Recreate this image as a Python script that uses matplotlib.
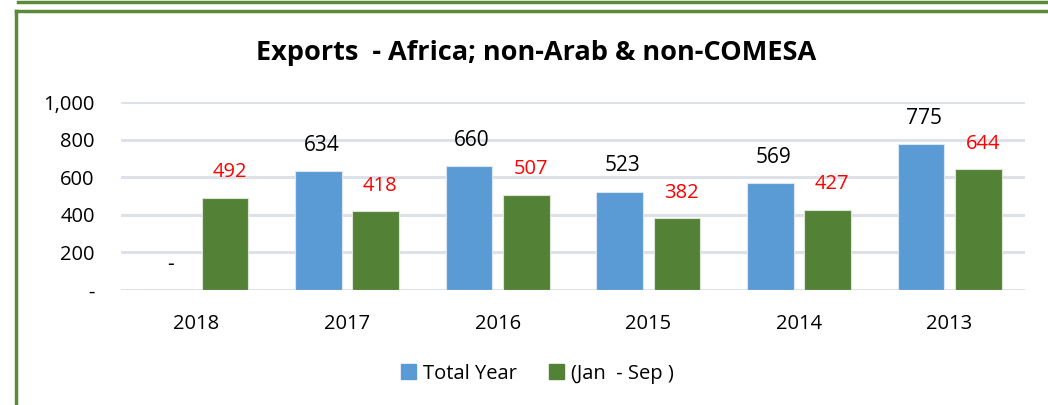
import matplotlib.pyplot as plt
from matplotlib.lines import Line2D
from matplotlib.ticker import FuncFormatter
import numpy as np

plt.rcParams['font.family'] = ['Open Sans', 'DejaVu Sans']

years = ['2018', '2017', '2016', '2015', '2014', '2013']
total_year = [0, 634, 660, 523, 569, 775]
jan_sep = [492, 418, 507, 382, 427, 644]

blue = '#5B9BD5'
green = '#538135'
grid_color = '#DDE1E8'

fig = plt.figure(figsize=(10.48, 4.05), dpi=100)
ax = fig.add_axes([0.1155, 0.284, 0.8625, 0.464])

x = np.arange(len(years))
w = 0.31
off = 0.19
ax.bar(x - off, total_year, w, color=blue, edgecolor='#DCE6F2', linewidth=0.8, zorder=3)
ax.bar(x + off, jan_sep, w, color=green, edgecolor='#DCE6D8', linewidth=0.8, zorder=3)

for xi, v in zip(x, total_year):
    ax.annotate('-' if v == 0 else f'{v:,}', (xi - off + 0.02, v), xytext=(0, 11),
                textcoords='offset points', ha='center', va='bottom', fontsize=15, color='black')
for xi, v in zip(x, jan_sep):
    ax.annotate(f'{v:,}', (xi + off + 0.03, v), xytext=(0, 11),
                textcoords='offset points', ha='center', va='bottom', fontsize=14.5, color='red')

ax.set_xlim(-0.5, len(years) - 0.5)
ax.set_ylim(0, 1000)
ax.set_yticks(range(0, 1001, 200))
ax.yaxis.set_major_formatter(FuncFormatter(lambda v, p: '-' if v == 0 else f'{int(v):,}'))
ax.set_xticks(x)
ax.set_xticklabels(years)
ax.tick_params(axis='both', length=0, labelsize=14.5)
ax.tick_params(axis='y', pad=19)
ax.tick_params(axis='x', pad=17)
ax.grid(axis='y', color=grid_color, linewidth=2.2, zorder=0)
for s in ax.spines.values():
    s.set_visible(False)

fig.text(0.512, 0.87, 'Exports  - Africa; non-Arab & non-COMESA', ha='center', va='center',
         fontsize=19.5, fontweight='bold')

handles = [plt.Rectangle((0, 0), 1, 1, color=blue), plt.Rectangle((0, 0), 1, 1, color=green)]
fig.legend(handles, ['Total Year', '(Jan  - Sep )'], loc='center', bbox_to_anchor=(0.513, 0.077),
           ncol=2, frameon=False, fontsize=14.5, handlelength=0.75, handleheight=0.75,
           handletextpad=0.35, columnspacing=1.6)

# green frame
fc = '#5B8A3A'
fig.add_artist(Line2D([18 / 1048, 1], [1 - 1.5 / 405] * 2, color=fc, linewidth=2.5, transform=fig.transFigure))
fig.add_artist(Line2D([15.5 / 1048, 1], [1 - 10.5 / 405] * 2, color=fc, linewidth=2.5, transform=fig.transFigure))
fig.add_artist(Line2D([15.5 / 1048] * 2, [0, 1 - 10.5 / 405], color=fc, linewidth=2.5, transform=fig.transFigure))

fig.savefig('out.png', dpi=100)
